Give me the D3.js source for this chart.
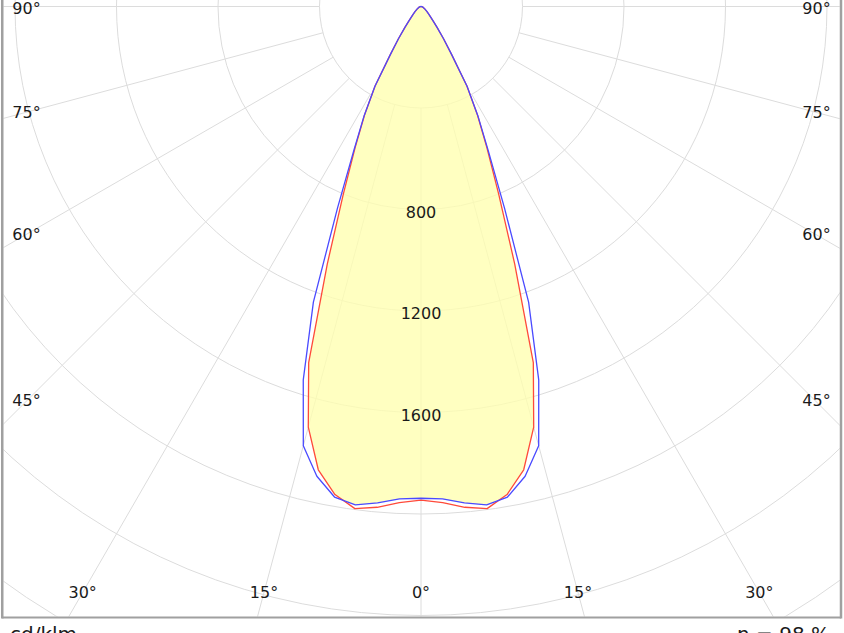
<!DOCTYPE html>
<html>
<head>
<meta charset="utf-8">
<script src="https://cdn.jsdelivr.net/npm/d3@7/dist/d3.min.js"></script>
<style>
  html, body { margin: 0; padding: 0; background: #fff; }
  svg { display: block; }
  text { font-family: "DejaVu Sans", Verdana, sans-serif; fill: #1a1a1a; }
</style>
</head>
<body>
<svg id="chart" width="844" height="633"></svg>
<script>
// ---- data ----
const angles = [0, 2.5, 5, 7.5, 10, 12.5, 15, 17.5, 20, 22.5, 25, 27.5, 30, 32.5, 35, 37.5, 40, 45, 50, 55, 60, 65, 70, 75, 80, 85, 90];
const planeC90 = [1938, 1942, 1964, 1981, 1963, 1896, 1792, 1543, 1240, 860, 627, 485, 363, 225, 155, 105, 75, 45, 30, 20, 15, 10, 8, 5, 3, 2, 0];
const planeC0  = [1945, 1957, 1981, 1996, 1953, 1870, 1716, 1472, 1080, 800, 615, 482, 362, 225, 155, 105, 75, 45, 30, 20, 15, 10, 8, 5, 3, 2, 0];
const circleValues = [400, 800, 1200, 1600, 2000, 2400, 2800, 3200, 3600];
const radialLabels = [800, 1200, 1600];
const spokeAngles = [-90, -75, -60, -45, -30, -15, 0, 15, 30, 45, 60, 75, 90];
const sideLabels = [90, 75, 60, 45];
const bottomLabels = [-30, -15, 0, 15, 30];
const unitText = "cd/klm";
const effText = "η = 98 %";

// ---- layout ----
const W = 844, H = 633;
const CX = 421, CY = 6.5;
const frame = { left: 2.25, right: 841, bottom: 617.5 };
const svg = d3.select("#chart");

const r = d3.scaleLinear().domain([0, 400]).range([0, 101.5]);
const toRad = d => d * Math.PI / 180;
// photometric gamma (0 = straight down, + = right) -> d3 radial angle
const radAngle = g => Math.PI - toRad(g);

const defs = svg.append("defs");
defs.append("clipPath").attr("id", "plotClip")
  .append("rect").attr("x", frame.left + 1.25).attr("y", 0)
  .attr("width", frame.right - 1.25 - frame.left - 1.25).attr("height", frame.bottom - 1 );

const g = svg.append("g").attr("transform", `translate(${CX},${CY})`);

// build full symmetric series (left side then right side)
function fullSeries(vals) {
  const pts = [];
  for (let i = angles.length - 1; i >= 0; i--) pts.push([-angles[i], vals[i]]);
  for (let i = 1; i < angles.length; i++) pts.push([angles[i], vals[i]]);
  return pts;
}
const line = d3.lineRadial()
  .angle(d => radAngle(d[0]))
  .radius(d => r(d[1]))
  .curve(d3.curveLinearClosed);

const blueD = line(fullSeries(planeC90));
const redD = line(fullSeries(planeC0));

// clip for fill (intersection of both planes)
defs.append("clipPath").attr("id", "blueClip")
  .append("path").attr("transform", `translate(${CX},${CY})`).attr("d", blueD);

const gridG = svg.append("g").attr("clip-path", "url(#plotClip)");
const grid = gridG.append("g").attr("transform", `translate(${CX},${CY})`);

// circles
grid.selectAll("circle.ring").data(circleValues).join("circle")
  .attr("class", "ring")
  .attr("r", d => r(d))
  .attr("fill", "none")
  .attr("stroke", "#dcdcdc")
  .attr("stroke-width", 1);

// spokes
grid.selectAll("line.spoke").data(spokeAngles).join("line")
  .attr("class", "spoke")
  .attr("x1", d => r(400) * Math.sin(toRad(d)))
  .attr("y1", d => r(400) * Math.cos(toRad(d)))
  .attr("x2", d => r(4000) * Math.sin(toRad(d)))
  .attr("y2", d => r(4000) * Math.cos(toRad(d)))
  .attr("stroke", "#dcdcdc")
  .attr("stroke-width", 1);

// fill (red area clipped by blue area)
const fillG = svg.append("g").attr("clip-path", "url(#blueClip)");
fillG.append("path")
  .attr("transform", `translate(${CX},${CY})`)
  .attr("d", redD)
  .attr("fill", "#ffffb0")
  .attr("fill-opacity", 0.78);

// curves
const curves = svg.append("g").attr("transform", `translate(${CX},${CY})`);
curves.append("path").attr("d", redD).attr("fill", "none")
  .attr("stroke", "#ff4a3a").attr("stroke-width", 1.3).attr("stroke-linejoin", "round");
curves.append("path").attr("d", blueD).attr("fill", "none")
  .attr("stroke", "#4a4aff").attr("stroke-width", 1.3).attr("stroke-linejoin", "round");

// radial value labels
curves.selectAll("text.rv").data(radialLabels).join("text")
  .attr("class", "rv")
  .attr("x", 0)
  .attr("y", d => r(d) + 2.5)
  .attr("dy", "0.36em")
  .attr("text-anchor", "middle")
  .attr("font-size", 16)
  .text(d => d);

// frame
svg.append("line").attr("x1", frame.left).attr("x2", frame.left).attr("y1", 0).attr("y2", frame.bottom + 1)
  .attr("stroke", "#a0a0a0").attr("stroke-width", 2.5);
svg.append("line").attr("x1", frame.right).attr("x2", frame.right).attr("y1", 0).attr("y2", frame.bottom + 1)
  .attr("stroke", "#a0a0a0").attr("stroke-width", 2.5);
svg.append("line").attr("x1", frame.left).attr("x2", frame.right).attr("y1", frame.bottom).attr("y2", frame.bottom)
  .attr("stroke", "#a0a0a0").attr("stroke-width", 2);

// side angle labels
const sideDist = 394;
const sideY = a => Math.max(CY + sideDist / Math.tan(toRad(a)), 8.5) ;
const sideData = [];
sideLabels.forEach(a => { sideData.push({ a, side: -1 }); sideData.push({ a, side: 1 }); });
svg.selectAll("text.side").data(sideData).join("text")
  .attr("class", "side")
  .attr("x", d => CX + d.side * sideDist - (d.side < 0 ? 0.5 : -1.5))
  .attr("y", d => a90(d.a))
  .attr("dy", "0.36em")
  .attr("text-anchor", "middle")
  .attr("font-size", 16)
  .text(d => d.a + "°");
function a90(a) { return a === 90 ? 8.5 : CY + sideDist * Math.tan(toRad(90 - a)); }

// bottom angle labels
const bottomY = 592.5;
svg.selectAll("text.bottom").data(bottomLabels).join("text")
  .attr("class", "bottom")
  .attr("x", d => CX + (bottomY - CY) * Math.tan(toRad(d)))
  .attr("y", bottomY)
  .attr("dy", "0.36em")
  .attr("text-anchor", "middle")
  .attr("font-size", 16)
  .text(d => Math.abs(d) + "°");

// footer texts
svg.append("text").attr("x", 10).attr("y", 641).attr("font-size", 20).text(unitText);
svg.append("text").attr("x", 830).attr("y", 641).attr("text-anchor", "end").attr("font-size", 20).text(effText);
</script>
</body>
</html>
